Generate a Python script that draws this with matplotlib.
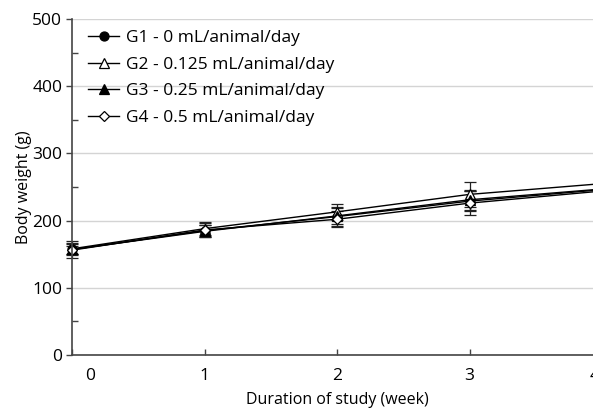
"""Body weight over the study duration for the four dose groups."""

import matplotlib

matplotlib.use("Agg")
import matplotlib.pyplot as plt
import matplotlib.transforms as mtransforms
from matplotlib.ticker import MultipleLocator

plt.rcParams["font.family"] = ["Open Sans", "DejaVu Sans"]

weeks = [0, 1, 2, 3, 4]
week_labels = ["0", "1", "2", "3", "4"]

g1_mean = [157, 185, 206, 229, 246]
g2_mean = [158, 188, 213, 239, 255]
g3_mean = [157, 184, 207, 231, 247]
g4_mean = [156, 186, 202, 226, 244]

g1_sd = [12, 8, 14, 15, 20]
g2_sd = [8, 10, 12, 19, 20]
g3_sd = [8, 9, 12, 15, 20]
g4_sd = [6, 11, 12, 18, 20]

group_labels = [
    "G1 - 0 mL/animal/day",
    "G2 - 0.125 mL/animal/day",
    "G3 - 0.25 mL/animal/day",
    "G4 - 0.5 mL/animal/day",
]


def main() -> None:
    fig = plt.figure(figsize=(5.93, 4.09), dpi=100)
    axis = fig.add_axes([72 / 593, 54 / 409, 530 / 593, 336 / 409])

    styles = [
        dict(marker="o", markerfacecolor="black"),
        dict(marker="^", markerfacecolor="white"),
        dict(marker="^", markerfacecolor="black"),
        dict(marker="D", markerfacecolor="white", markersize=5.5),
    ]
    series = [(g1_mean, g1_sd), (g2_mean, g2_sd), (g3_mean, g3_sd), (g4_mean, g4_sd)]

    for (means, sds), style, label in zip(series, styles, group_labels):
        kwargs = dict(markersize=6.5)
        kwargs.update(style)
        bars = axis.errorbar(
            weeks, means, yerr=sds,
            color="black", linewidth=1.0, markeredgecolor="black", markeredgewidth=0.9,
            ecolor="#222222", elinewidth=0.9, capsize=4, capthick=0.9,
            label=label, **kwargs,
        )
        # markers at week 0 sit on the axis line and are drawn whole
        for artist in bars.lines[:1] + bars.lines[1] + bars.lines[2]:
            artist.set_clip_on(False)

    axis.set_xlim(0, 4)
    axis.set_ylim(0, 500)
    axis.set_xticks(weeks)
    axis.set_xticklabels(week_labels)
    axis.yaxis.set_major_locator(MultipleLocator(100))
    axis.yaxis.set_minor_locator(MultipleLocator(50))

    axis.grid(True, axis="y", which="major", color="#d4d4d4", linewidth=1.0)
    axis.set_axisbelow(True)
    for side in ("top", "right"):
        axis.spines[side].set_visible(False)
    for side in ("left", "bottom"):
        axis.spines[side].set_color("#444444")
        axis.spines[side].set_linewidth(1.2)

    axis.tick_params(axis="y", which="major", direction="out", length=4, width=1, color="#444444",
                     labelsize=12.5, pad=3)
    axis.tick_params(axis="y", which="minor", direction="in", length=4, width=1, color="#444444")
    axis.tick_params(axis="x", which="major", direction="in", length=4, width=1, color="#444444",
                     labelsize=12.5, pad=9)

    # the first week label sits right of the axis line, the last one is cut by the edge
    tick_labels = axis.get_xticklabels()
    shifts = {0: 18, len(tick_labels) - 1: -7}
    for index, shift in shifts.items():
        text = tick_labels[index]
        text.set_transform(text.get_transform()
                           + mtransforms.ScaledTranslation(shift / 100, 0, fig.dpi_scale_trans))

    axis.set_xlabel("Duration of study (week)", fontsize=11.5, labelpad=6)
    axis.set_ylabel("Body weight (g)", fontsize=11.5, labelpad=0)

    handles, labels = axis.get_legend_handles_labels()
    handles = [h[0] for h in handles]
    axis.legend(
        handles, labels, loc="upper left", bbox_to_anchor=(88 / 593, 1 - 30 / 409),
        bbox_transform=fig.transFigure, frameon=False, fontsize=12.5,
        handlelength=1.8, handletextpad=0.4, labelspacing=0.6, borderaxespad=0, borderpad=0,
    )

    fig.savefig("out.png", dpi=100)
    plt.close(fig)


if __name__ == "__main__":
    main()
